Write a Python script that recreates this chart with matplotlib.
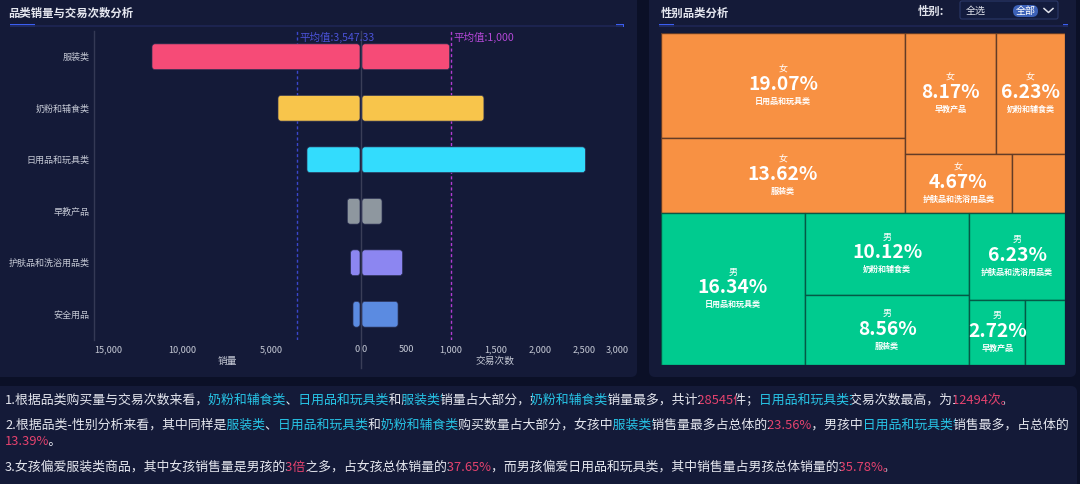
import numpy as np
import matplotlib
matplotlib.use('Agg')
import matplotlib.pyplot as plt
from matplotlib import font_manager, ft2font
from matplotlib.patches import FancyBboxPatch, Rectangle
from matplotlib.transforms import IdentityTransform, offset_copy, Bbox, TransformedBbox

plt.rcParams['font.family'] = ['Noto Sans CJK SC', 'DejaVu Sans']

# ---------------- data ----------------
categories = ['服装类', '奶粉和辅食类', '日用品和玩具类', '早教产品', '护肤品和洗浴用品类', '安全用品']
sales = [11730, 4625, 2990, 716, 530, 395]
trades = [985, 1370, 2510, 225, 455, 405]
bar_colors = ['#f64b77', '#f8c54b', '#33dcfd', '#8e979f', '#8c86f1', '#5b8be1']
sales_mean = 3547.33
trades_mean = 1000
sales_ticks = [15000, 10000, 5000, 0]
trades_ticks = [0, 500, 1000, 1500, 2000, 2500, 3000]

tm_groups = ['女', '男']
tm_group_colors = ['#f89143', '#00cb8f']
tm_female_names = ['日用品和玩具类', '服装类', '早教产品', '奶粉和辅食类', '护肤品和洗浴用品类', '安全用品']
tm_female_pct = [19.07, 13.62, 8.17, 6.23, 4.67, 2.34]
tm_male_names = ['日用品和玩具类', '奶粉和辅食类', '服装类', '护肤品和洗浴用品类', '早教产品', '安全用品']
tm_male_pct = [16.34, 10.12, 8.56, 6.23, 2.72, 1.93]
label_min_pct = 2.5

W_ = '#e4e6ee'
C_ = '#27c4e6'
P_ = '#e4426e'
note_lines = [
    [('1.根据品类购买量与交易次数来看，', W_), ('奶粉和辅食类', C_), ('、', W_), ('日用品和玩具类', C_),
     ('和', W_), ('服装类', C_), ('销量占大部分，', W_), ('奶粉和辅食类', C_), ('销量最多，共计', W_),
     ('28545', P_), ('件；', W_), ('日用品和玩具类', C_), ('交易次数最高，为', W_), ('12494次', P_), ('。', W_)],
    [('2.根据品类-性别分析来看，其中同样是', W_), ('服装类', C_), ('、', W_), ('日用品和玩具类', C_),
     ('和', W_), ('奶粉和辅食类', C_), ('购买数量占大部分，女孩中', W_), ('服装类', C_),
     ('销售量最多占总体的', W_), ('23.56%', P_), ('，男孩中', W_), ('日用品和玩具类', C_),
     ('销售最多，占总体的', W_)],
    [('13.39%', P_), ('。', W_)],
    [('3.女孩偏爱服装类商品，其中女孩销售量是男孩的', W_), ('3倍', P_), ('之多，占女孩总体销量的', W_),
     ('37.65%', P_), ('，而男孩偏爱日用品和玩具类，其中销售量占男孩总体销量的', W_), ('35.78%', P_), ('。', W_)],
]
note_y = [399.5, 425, 441, 467.5]

# ---------------- figure ----------------
W, H = 1080, 484
fig = plt.figure(figsize=(W / 100, H / 100), dpi=100)
fig.patch.set_facecolor('#0b1027')


def px_axes(x0, y0, x1, y1, z=1):
    ax = fig.add_axes([x0 / W, 1 - y1 / H, (x1 - x0) / W, (y1 - y0) / H])
    ax.set_zorder(z)
    return ax


bg = px_axes(0, 0, W, H, 0)
bg.set_xlim(0, W)
bg.set_ylim(H, 0)
bg.axis('off')

PANEL = '#141a38'


def rbox(ax, x0, y0, x1, y1, color, r, z=0, ec='none', lw=0):
    ax.add_patch(FancyBboxPatch((x0, y0), x1 - x0, y1 - y0,
                                boxstyle=f'round,pad=0,rounding_size={r}',
                                fc=color, ec=ec, lw=lw, zorder=z))


rbox(bg, -6, -6, 637, 377, PANEL, 6)
rbox(bg, 649, -6, 1076, 377, PANEL, 6)
rbox(bg, -6, 386, 1077, 492, PANEL, 6)

# headers
bg.text(8, 13, '品类销量与交易次数分析', fontsize=8.2, fontweight='bold', color='#e6e8f0', va='center', ha='left')
bg.plot([10, 623], [25.5, 25.5], color='#1d2552', lw=1.3, solid_capstyle='butt')
bg.add_patch(Rectangle((10, 24), 25, 3, fc='#3b5ef0', ec='none'))
bg.add_patch(Rectangle((616, 24), 8, 3, fc='#3b5ef0', ec='none'))

bg.text(661, 13, '性别品类分析', fontsize=8.2, fontweight='bold', color='#e6e8f0', va='center', ha='left')
bg.plot([659, 1068], [25.5, 25.5], color='#1d2552', lw=1.3, solid_capstyle='butt')
bg.add_patch(Rectangle((659, 24), 15, 3, fc='#3b5ef0', ec='none'))
bg.add_patch(Rectangle((1063, 24), 5, 3, fc='#3b5ef0', ec='none'))

bg.text(918, 11, '性别:', fontsize=8.2, fontweight='bold', color='#e0e2ea', va='center', ha='left')
rbox(bg, 960, 1, 1058, 19, '#131c3e', 2, ec='#2a3868', lw=0.8)
bg.text(966, 11, '全选', fontsize=7.2, color='#dfe2ea', va='center', ha='left')
rbox(bg, 1013, 5, 1038, 17, '#3d62b8', 6)
bg.text(1025.5, 11, '全部', fontsize=7.2, color='#ffffff', va='center', ha='center')
bg.plot([1044, 1048.5, 1053], [8.5, 12.5, 8.5], color='#e0e2ea', lw=1.1)

# ---------------- bar chart ----------------
axL = px_axes(94, 31, 360, 340, 2)
axR = px_axes(362, 31, 629, 340, 2)
ypos = np.arange(len(categories))
barsL = axL.barh(ypos, sales, height=0.5, color=bar_colors)
barsR = axR.barh(ypos, trades, height=0.5, color=bar_colors)
axL.set_xlim(15000, 0)
axR.set_xlim(0, 3000)
for ax in (axL, axR):
    ax.set_ylim(len(categories) - 0.5, -0.5)
    ax.set_facecolor('none')
    for s in ax.spines.values():
        s.set_visible(False)
    ax.tick_params(axis='x', length=0, pad=3.5, labelsize=6.6, labelcolor='#c4c8d4')
axL.spines['left'].set_visible(True)
axL.spines['left'].set_color('#343955')
axL.spines['left'].set_linewidth(1)
axL.set_yticks(ypos, categories)
axL.tick_params(axis='y', length=0, pad=3, labelsize=6.5, labelcolor='#c4c8d4')
axR.set_yticks([])

axL.set_xticks(sales_ticks, [f'{v:,}' for v in sales_ticks])
axR.set_xticks(trades_ticks, [f'{v:,}' for v in trades_ticks])
lab = axL.get_xticklabels()
lab[0].set_ha('left')
lab[-1].set_ha('right')
lab = axR.get_xticklabels()
lab[0].set_ha('left')
lab[-1].set_ha('right')

# rounded bars
for bars in (barsL, barsR):
    for b in bars:
        bb = b.get_window_extent()
        b.set_visible(False)
        fig.add_artist(FancyBboxPatch((bb.x0, bb.y0), bb.width, bb.height,
                                      boxstyle='round,pad=0,rounding_size=3',
                                      fc=b.get_facecolor(), ec='#2a2f52', lw=0.5,
                                      transform=IdentityTransform(), zorder=3))

bg.plot([361, 361], [31, 368], color='#3a3e58', lw=1, zorder=4)

axL.axvline(sales_mean, color='#3a46cc', lw=1, ls=(0, (2.2, 1.8)), zorder=5)
axR.axvline(trades_mean, color='#b23cd2', lw=1, ls=(0, (2.2, 1.8)), zorder=5)
axL.text(sales_mean, -0.5, f'平均值:{sales_mean:,.2f}', ha='left', va='center', fontsize=7.6,
         color='#4a52d6', transform=offset_copy(axL.transData, fig=fig, x=2, y=-6, units='dots'))
axR.text(trades_mean, -0.5, f'平均值:{trades_mean:,}', ha='left', va='center', fontsize=7.6,
         color='#b448d8', transform=offset_copy(axR.transData, fig=fig, x=2, y=-6, units='dots'))

bg.text(227, 361, '销量', fontsize=7, color='#c4c8d4', ha='center', va='center')
bg.text(495.5, 361, '交易次数', fontsize=7, color='#c4c8d4', ha='center', va='center')

# ---------------- treemap (squarified, golden ratio) ----------------
GOLD = 0.5 * (1 + 5 ** 0.5)


def squarify(values, x, y, w, h, ratio=GOLD):
    total = float(sum(values))
    items = sorted([(i, v / total * w * h) for i, v in enumerate(values)], key=lambda t: -t[1])
    rect = {'x': x, 'y': y, 'w': w, 'h': h}
    out = [None] * len(values)

    def worst(row, area, L):
        amax = max(a for _, a in row)
        amin = min(a for _, a in row)
        sq = area * area
        f = L * L * ratio
        return max(f * amax / sq, sq / (f * amin))

    def position(row, area, L, flush):
        along_x = (L == rect['w'])
        other = area / L if L else 0
        avail = rect['h'] if along_x else rect['w']
        if flush or other > avail:
            other = avail
        last = rect['x'] if along_x else rect['y']
        end = last + (rect['w'] if along_x else rect['h'])
        for k, (idx, a) in enumerate(row):
            nl = a / other if other else 0
            remain = end - last
            m = remain if (k == len(row) - 1 or remain < nl) else nl
            if along_x:
                out[idx] = (last, rect['y'], m, other)
            else:
                out[idx] = (rect['x'], last, other, m)
            last += m
        if along_x:
            rect['y'] += other
            rect['h'] -= other
        else:
            rect['x'] += other
            rect['w'] -= other

    row, area, best, L, i = [], 0.0, np.inf, min(w, h), 0
    while i < len(items):
        row.append(items[i])
        area += items[i][1]
        sc = worst(row, area, L)
        if sc <= best:
            i += 1
            best = sc
        else:
            area -= row.pop()[1]
            position(row, area, L, False)
            L = min(rect['w'], rect['h'])
            row, area, best = [], 0.0, np.inf
    if row:
        position(row, area, L, True)
    return out


TW, TH = 404, 332
tm = px_axes(661, 33, 661 + TW, 33 + TH, 3)
tm.set_xlim(0, TW)
tm.set_ylim(TH, 0)
tm.axis('off')

group_names = [tm_female_names, tm_male_names]
group_pcts = [tm_female_pct, tm_male_pct]
edge_cols = [(0.36, 0.22, 0.15, 0.9), (0.02, 0.33, 0.26, 0.9)]
top = squarify([sum(p) for p in group_pcts], 0, 0, TW, TH)
for g, (gx, gy, gw, gh) in enumerate(top):
    rects = squarify(group_pcts[g], gx, gy, gw, gh)
    for (rx, ry, rw, rh), nm, pc in zip(rects, group_names[g], group_pcts[g]):
        tm.add_patch(Rectangle((rx, ry), rw, rh, fc=tm_group_colors[g], ec=edge_cols[g], lw=1.0))
        if pc >= label_min_pct:
            cx, cy = rx + rw / 2, ry + rh / 2
            tm.text(cx, cy - 16.5, tm_groups[g], ha='center', va='center', fontsize=6.5, color='white')
            tm.text(cx, cy - 1, f'{pc:.2f}%', ha='center', va='center', fontsize=13.8,
                    fontweight='bold', color='white')
            tm.text(cx, cy + 16, nm, ha='center', va='center', fontsize=5.8,
                    fontweight='bold', color='white')

# ---------------- notes (one string per line, colour by clipped copies) ----------------
NFS = 9.3
_fpath = font_manager.findfont(font_manager.FontProperties(family='Noto Sans CJK SC'))
_ft = ft2font.FT2Font(_fpath, hinting_factor=1)
_ft.set_size(NFS, 100)
try:
    _flag = ft2font.LoadFlags.NO_HINTING
except AttributeError:
    _flag = ft2font.LOAD_NO_HINTING


def adv_w(s):
    return sum(_ft.load_char(ord(c), flags=_flag).linearHoriAdvance / 65536.0 for c in s)


for segs, yy in zip(note_lines, note_y):
    x0 = 5
    full = ''.join(s for s, _ in segs)
    b = x0
    for k, (s, col) in enumerate(segs):
        xa = b if k > 0 else 0
        b = b + adv_w(s)
        xb = b if k < len(segs) - 1 else W
        t = bg.text(x0, yy, full, fontsize=NFS, color=col, ha='left', va='center')
        t.set_clip_box(TransformedBbox(Bbox([[xa, yy - 12], [xb, yy + 12]]), bg.transData))
        t.set_clip_on(True)

fig.savefig('out.png', dpi=100, facecolor=fig.get_facecolor())
